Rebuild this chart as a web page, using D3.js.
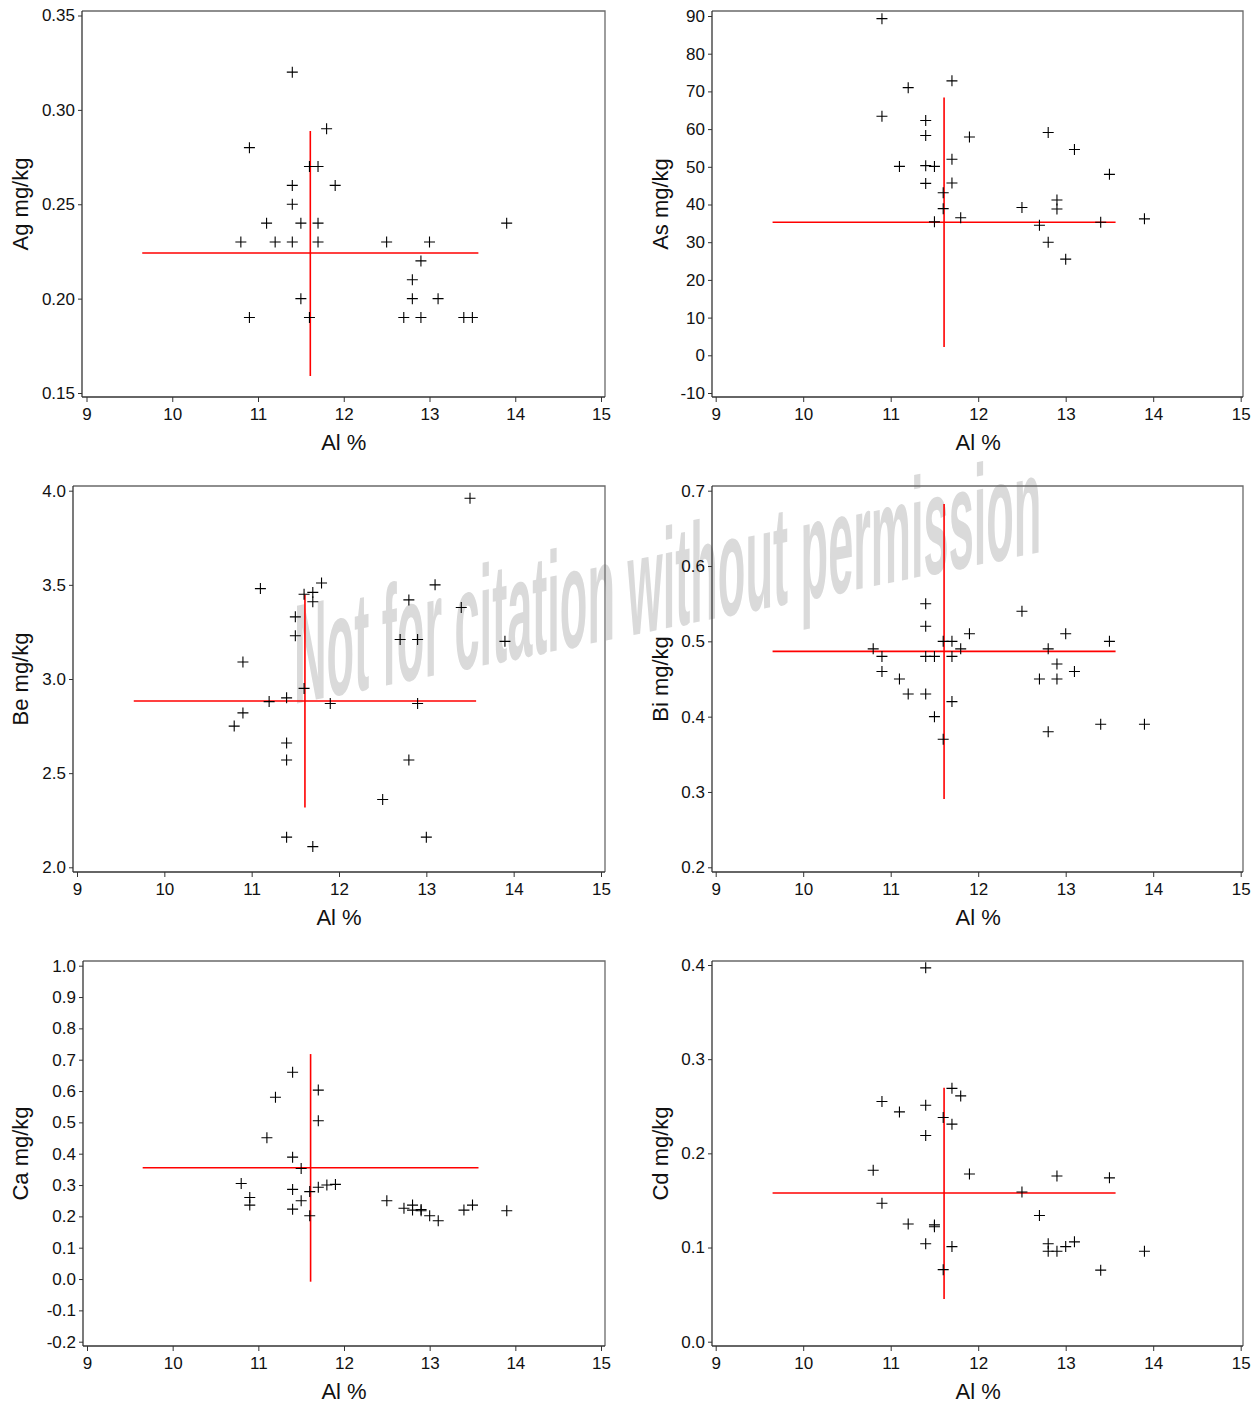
<!DOCTYPE html>
<html><head><meta charset="utf-8">
<script src="https://cdn.jsdelivr.net/npm/d3@7"></script>
<style>
body{margin:0;background:#fff}
svg{display:block}
text{font-family:"Liberation Sans",Arial,Helvetica,sans-serif}
</style>
</head><body>
<svg id="c" width="1260" height="1405"></svg>
<script>
// ---------- DATA ----------
const alTicks = [9, 10, 11, 12, 13, 14, 15];
const xLabel = "Al %";

const agTicks = [0.15, 0.20, 0.25, 0.30, 0.35];
const agAl  = [11.4, 11.8, 10.9, 11.6, 11.7, 11.4, 11.9, 11.4, 11.1, 11.5, 11.7, 13.9, 10.8, 11.2, 11.4, 11.7, 12.5, 13.0, 12.9, 12.8, 11.5, 12.8, 13.1, 10.9, 11.6, 12.7, 12.9, 13.4, 13.5];
const agVal = [0.32, 0.29, 0.28, 0.27, 0.27, 0.26, 0.26, 0.25, 0.24, 0.24, 0.24, 0.24, 0.23, 0.23, 0.23, 0.23, 0.23, 0.23, 0.22, 0.21, 0.20, 0.20, 0.20, 0.19, 0.19, 0.19, 0.19, 0.19, 0.19];
const agRef = [0.159, 0.2242, 0.2888];

const asTicks = [-10, 0, 10, 20, 30, 40, 50, 60, 70, 80, 90];
const asAl  = [10.9, 11.7, 11.2, 10.9, 11.4, 11.4, 11.9, 12.8, 13.1, 11.7, 11.1, 11.4, 11.5, 13.5, 11.4, 11.7, 11.6, 12.9, 12.9, 12.5, 11.6, 11.8, 13.9, 11.5, 13.4, 12.7, 12.8, 13.0];
const asVal = [89.3, 72.8, 71.0, 63.4, 62.3, 58.3, 57.9, 59.1, 54.6, 52.0, 50.1, 50.3, 50.1, 48.0, 45.6, 45.7, 43.1, 41.2, 38.8, 39.2, 38.9, 36.5, 36.2, 35.4, 35.3, 34.5, 30.0, 25.5];
const asRef = [2.2, 35.3, 68.4];

const beTicks = [2.0, 2.5, 3.0, 3.5, 4.0];
const beAl  = [13.5, 11.8, 11.1, 13.1, 11.6, 11.7, 11.7, 12.8, 13.4, 11.5, 11.5, 12.7, 12.9, 13.9, 10.9, 11.6, 11.4, 11.2, 11.9, 12.9, 10.9, 10.8, 11.4, 11.4, 12.8, 12.5, 11.4, 13.0, 11.7];
const beVal = [3.96, 3.51, 3.48, 3.50, 3.45, 3.46, 3.41, 3.42, 3.38, 3.33, 3.23, 3.21, 3.21, 3.20, 3.09, 2.95, 2.90, 2.88, 2.87, 2.87, 2.82, 2.75, 2.66, 2.57, 2.57, 2.36, 2.16, 2.16, 2.11];
const beRef = [2.317, 2.883, 3.448];

const biTicks = [0.2, 0.3, 0.4, 0.5, 0.6, 0.7];
const biAl  = [11.4, 12.5, 11.4, 11.9, 13.0, 11.6, 11.7, 13.5, 10.8, 11.8, 12.8, 10.9, 11.4, 11.5, 11.7, 12.9, 10.9, 13.1, 11.1, 12.7, 12.9, 11.2, 11.4, 11.7, 11.5, 13.4, 13.9, 12.8, 11.6];
const biVal = [0.55, 0.54, 0.52, 0.51, 0.51, 0.50, 0.50, 0.50, 0.49, 0.49, 0.49, 0.48, 0.48, 0.48, 0.48, 0.47, 0.46, 0.46, 0.45, 0.45, 0.45, 0.43, 0.43, 0.42, 0.40, 0.39, 0.39, 0.38, 0.37];
const biRef = [0.2907, 0.4867, 0.6823];

const caTicks = [-0.2, -0.1, 0.0, 0.1, 0.2, 0.3, 0.4, 0.5, 0.6, 0.7, 0.8, 0.9, 1.0];
const caAl  = [11.4, 11.7, 11.2, 11.7, 11.1, 11.4, 11.5, 10.8, 11.8, 11.9, 11.7, 11.4, 11.6, 10.9, 11.5, 12.5, 10.9, 12.8, 13.5, 12.7, 12.8, 12.9, 12.9, 11.4, 13.4, 13.9, 11.6, 13.0, 13.1];
const caVal = [0.660, 0.603, 0.580, 0.505, 0.451, 0.389, 0.353, 0.305, 0.300, 0.302, 0.293, 0.286, 0.279, 0.260, 0.250, 0.250, 0.236, 0.236, 0.236, 0.226, 0.220, 0.222, 0.218, 0.223, 0.220, 0.218, 0.202, 0.202, 0.186];
const caRef = [-0.0085, 0.3553, 0.718];

const cdTicks = [0.0, 0.1, 0.2, 0.3, 0.4];
const cdAl  = [11.4, 11.7, 11.8, 10.9, 11.4, 11.1, 11.6, 11.7, 11.4, 10.8, 11.9, 12.9, 13.5, 12.5, 10.9, 12.7, 11.2, 11.5, 11.5, 11.4, 13.1, 12.8, 13.0, 11.7, 12.8, 12.9, 13.9, 11.6, 13.4];
const cdVal = [0.397, 0.269, 0.261, 0.255, 0.251, 0.244, 0.238, 0.231, 0.219, 0.182, 0.178, 0.176, 0.174, 0.159, 0.147, 0.134, 0.125, 0.124, 0.122, 0.104, 0.106, 0.104, 0.101, 0.101, 0.096, 0.096, 0.096, 0.0765, 0.076];
const cdRef = [0.0453, 0.1579, 0.2697];

const alRef = [9.65, 11.61, 13.57];

const watermark = "Not for citation without permission";

// ---------- LAYOUT ----------
const panels = [
  {label:"Ag mg/kg", al:agAl, val:agVal, ref:agRef, ticks:agTicks, dec:2,
   left:82, top:11, right:605, bottom:397, x0:86.5, x1:601, y0:393, y1:15.5, labX:28},
  {label:"As mg/kg", al:asAl, val:asVal, ref:asRef, ticks:asTicks, dec:0,
   left:712, top:11, right:1243, bottom:397, x0:715.7, x1:1240.7, y0:393, y1:16, labX:668},
  {label:"Be mg/kg", al:beAl, val:beVal, ref:beRef, ticks:beTicks, dec:1,
   left:73, top:486, right:605, bottom:872, x0:77, x1:601, y0:867.3, y1:490.7, labX:28},
  {label:"Bi mg/kg", al:biAl, val:biVal, ref:biRef, ticks:biTicks, dec:1,
   left:712, top:486, right:1243, bottom:872, x0:715.7, x1:1240.7, y0:867.3, y1:490.7, labX:668},
  {label:"Ca mg/kg", al:caAl, val:caVal, ref:caRef, ticks:caTicks, dec:1,
   left:83, top:961, right:605, bottom:1346, x0:87, x1:601, y0:1341.7, y1:965.7, labX:28},
  {label:"Cd mg/kg", al:cdAl, val:cdVal, ref:cdRef, ticks:cdTicks, dec:1,
   left:712, top:961, right:1243, bottom:1346, x0:715.7, x1:1240.7, y0:1341.7, y1:965, labX:668}
];

const svg = d3.select("#c");

// watermark (beneath)
svg.append("text")
  .attr("transform", "translate(294,704) skewY(-11.5) scale(0.318,1)")
  .attr("font-size", 142)
  .attr("font-weight", "bold")
  .attr("fill", "#dadada")
  .text(watermark);

panels.forEach(p => {
  const g = svg.append("g");
  const x = d3.scaleLinear().domain([alTicks[0], alTicks[alTicks.length-1]]).range([p.x0, p.x1]);
  const y = d3.scaleLinear().domain([p.ticks[0], p.ticks[p.ticks.length-1]]).range([p.y0, p.y1]);

  g.append("path")
    .attr("d", `M${p.left},${p.top}H${p.right}V${p.bottom}`)
    .attr("fill", "none").attr("stroke", "#6a6a6a").attr("stroke-width", 1.3);

  const xa = g.append("g").attr("transform", `translate(0,${p.bottom})`)
    .call(d3.axisBottom(x).tickValues(alTicks).tickSize(5).tickPadding(6).tickSizeOuter(0).tickFormat(d => String(d)));
  xa.select(".domain").attr("d", `M${p.left},0H${p.right}`).attr("stroke", "#333").attr("stroke-width", 1.3);
  xa.selectAll(".tick line").attr("stroke", "#333");
  xa.selectAll("text").attr("font-size", 17).attr("fill", "#111").attr("font-family", null);

  const ya = g.append("g").attr("transform", `translate(${p.left},0)`)
    .call(d3.axisLeft(y).tickValues(p.ticks).tickSize(4).tickPadding(3).tickSizeOuter(0).tickFormat(d => d.toFixed(p.dec)));
  ya.select(".domain").attr("d", `M0,${p.top}V${p.bottom}`).attr("stroke", "#333").attr("stroke-width", 1.3);
  ya.selectAll(".tick line").attr("stroke", "#333");
  ya.selectAll("text").attr("font-size", 17).attr("fill", "#111").attr("font-family", null);

  g.append("line")
    .attr("x1", x(alRef[0])).attr("x2", x(alRef[2]))
    .attr("y1", y(p.ref[1])).attr("y2", y(p.ref[1]))
    .attr("stroke", "#ff0000").attr("stroke-width", 1.6);
  g.append("line")
    .attr("x1", x(alRef[1])).attr("x2", x(alRef[1]))
    .attr("y1", y(p.ref[0])).attr("y2", y(p.ref[2]))
    .attr("stroke", "#ff0000").attr("stroke-width", 1.6);

  const pts = p.al.map((a, i) => [a, p.val[i]]);
  g.append("g").selectAll("path").data(pts).join("path")
    .attr("d", d => {
      const cx = x(d[0]), cy = y(d[1]), h = 5.5;
      return `M${cx-h},${cy}H${cx+h}M${cx},${cy-h}V${cy+h}`;
    })
    .attr("stroke", "#000").attr("stroke-width", 1.1).attr("fill", "none");

  g.append("text")
    .attr("x", x(12)).attr("y", p.bottom + 53)
    .attr("text-anchor", "middle").attr("font-size", 22).attr("fill", "#111")
    .text(xLabel);
  g.append("text")
    .attr("transform", `translate(${p.labX},${(p.top + p.bottom) / 2}) rotate(-90)`)
    .attr("text-anchor", "middle").attr("font-size", 22).attr("fill", "#111")
    .text(p.label);
});
</script>
</body></html>
